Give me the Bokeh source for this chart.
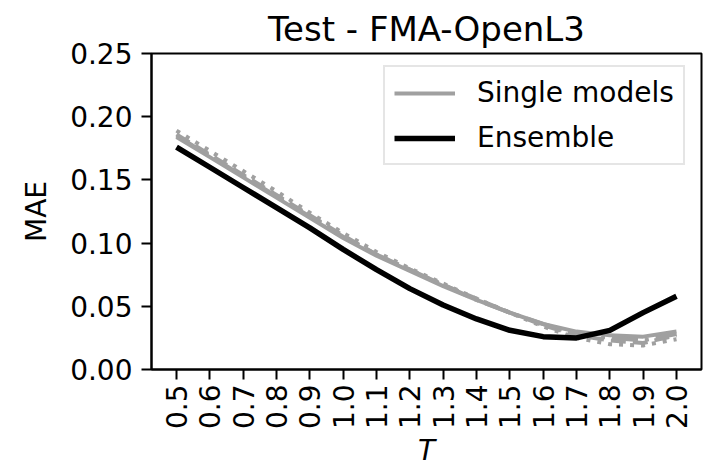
import math
from bokeh.plotting import figure
from bokeh.models import FixedTicker, PrintfTickFormatter, Legend, LegendItem, Range1d
from bokeh.embed import file_html
from bokeh.resources import INLINE

T = [0.5, 0.6, 0.7, 0.8, 0.9, 1.0, 1.1, 1.2, 1.3, 1.4, 1.5, 1.6, 1.7, 1.8, 1.9, 2.0]

ensemble = [0.176, 0.160, 0.144, 0.128, 0.112, 0.095, 0.079, 0.064, 0.051, 0.040,
            0.031, 0.026, 0.025, 0.031, 0.045, 0.058]

single_solid = [0.184, 0.168, 0.152, 0.136, 0.120, 0.104, 0.090, 0.078, 0.066, 0.055,
                0.045, 0.036, 0.030, 0.027, 0.026, 0.030]
single_dotted = [0.189, 0.173, 0.157, 0.141, 0.124, 0.108, 0.093, 0.080, 0.068, 0.056,
                 0.045, 0.034, 0.025, 0.020, 0.019, 0.024]
single_dashed = [0.186, 0.170, 0.154, 0.138, 0.122, 0.106, 0.091, 0.079, 0.067, 0.056,
                 0.045, 0.035, 0.027, 0.023, 0.021, 0.027]
single_dashdot = [0.185, 0.169, 0.153, 0.137, 0.121, 0.105, 0.091, 0.079, 0.067, 0.055,
                  0.045, 0.036, 0.028, 0.025, 0.023, 0.028]

x_ticks = [0.5, 0.6, 0.7, 0.8, 0.9, 1.0, 1.1, 1.2, 1.3, 1.4, 1.5, 1.6, 1.7, 1.8, 1.9, 2.0]
y_ticks = [0.0, 0.05, 0.10, 0.15, 0.20, 0.25]

FONT = "DejaVu Sans"
GRAY = "#a0a0a0"

p = figure(width=713, height=470, output_backend="svg", toolbar_location=None,
           x_range=Range1d(0.425, 2.075), y_range=Range1d(0.0, 0.25),
           min_border_left=151, min_border_right=12, min_border_top=53,
           min_border_bottom=100, title="Test - FMA-OpenL3")

p.title.text_font = FONT
p.title.text_font_size = "34px"
p.title.text_font_style = "normal"
p.title.align = "center"
p.title.text_color = "black"

p.grid.visible = False
p.outline_line_color = "black"
p.outline_line_width = 2
p.outline_line_alpha = 1.0

for ax in (p.xaxis[0], p.yaxis[0]):
    ax.major_label_text_font = FONT
    ax.major_label_text_font_size = "28px"
    ax.major_label_text_color = "black"
    ax.axis_label_text_font = FONT
    ax.axis_label_text_font_size = "28px"
    ax.axis_label_text_color = "black"
    ax.axis_label_text_font_style = "normal"
    ax.minor_tick_line_color = None
    ax.major_tick_in = 0
    ax.major_tick_out = 10
    ax.major_tick_line_width = 2
    ax.major_tick_line_color = "black"
    ax.axis_line_width = 2
    ax.axis_line_color = "black"
    ax.major_label_standoff = 9

p.xaxis[0].ticker = FixedTicker(ticks=x_ticks)
p.xaxis[0].formatter = PrintfTickFormatter(format="%.1f")
p.xaxis[0].major_label_orientation = math.pi / 2
p.xaxis[0].major_label_standoff = 5
p.xaxis[0].axis_label = "T"
p.xaxis[0].axis_label_text_font_style = "italic"
p.xaxis[0].axis_label_standoff = 2

p.yaxis[0].ticker = FixedTicker(ticks=y_ticks)
p.yaxis[0].formatter = PrintfTickFormatter(format="%.2f")
p.yaxis[0].axis_label = "MAE"
p.yaxis[0].axis_label_standoff = 14

lw_gray = 4
r_solid = p.line(T, single_solid, line_color=GRAY, line_width=lw_gray)
p.line(T, single_dashed, line_color=GRAY, line_width=lw_gray, line_dash="15 7")
p.line(T, single_dotted, line_color=GRAY, line_width=lw_gray, line_dash="4 7")
p.line(T, single_dashdot, line_color=GRAY, line_width=lw_gray, line_dash="26 7 4 7")
r_ens = p.line(T, ensemble, line_color="black", line_width=5.5)

legend = Legend(items=[LegendItem(label="Single models", renderers=[r_solid]),
                       LegendItem(label="Ensemble", renderers=[r_ens])],
                location=(232, 204))
legend.label_text_font = FONT
legend.label_text_font_size = "28px"
legend.label_text_color = "black"
legend.glyph_width = 61
legend.glyph_height = 32
legend.label_height = 32
legend.spacing = 12
legend.padding = 9
legend.margin = 0
legend.label_standoff = 22
legend.border_line_color = "#cccccc"
legend.border_line_width = 2
legend.background_fill_alpha = 0.8
p.add_layout(legend, "center")

open("out.html", "w").write(file_html(p, INLINE))
